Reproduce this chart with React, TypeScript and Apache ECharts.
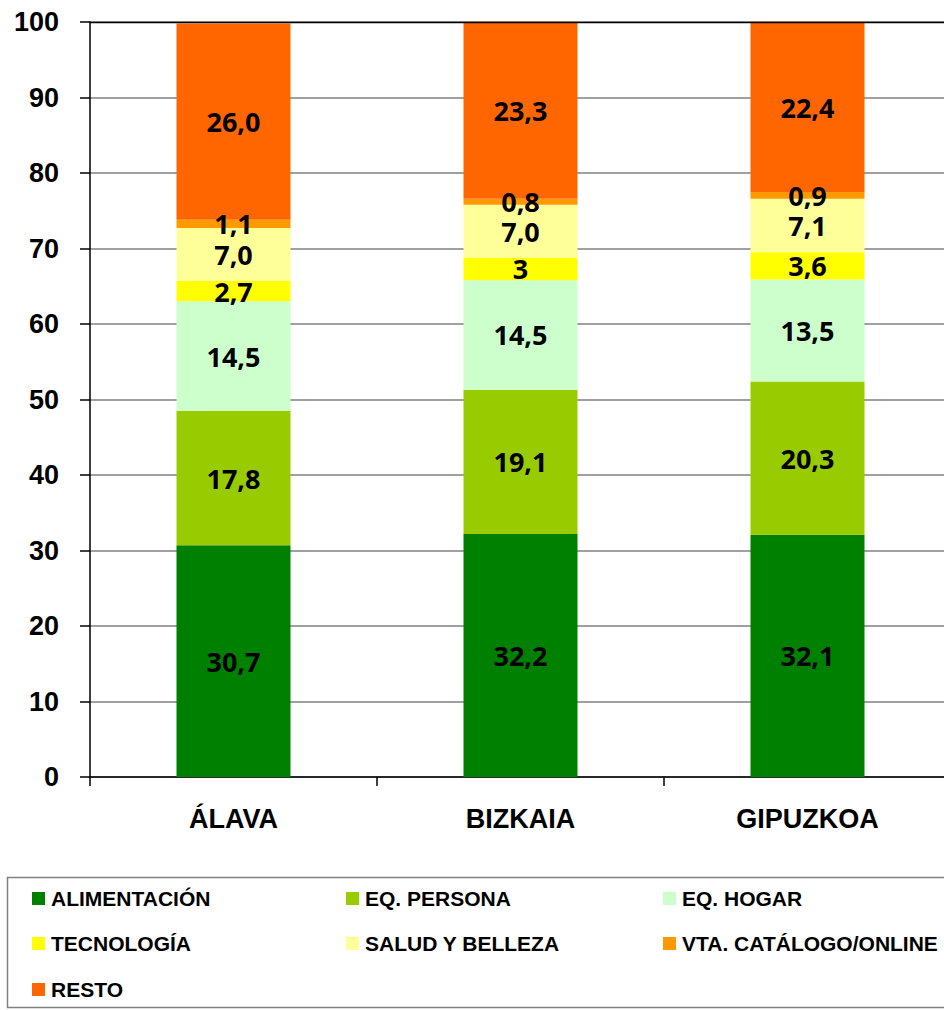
import React, { useEffect, useRef } from "react";
import * as echarts from "echarts";

const categories = ["ÁLAVA", "BIZKAIA", "GIPUZKOA"];
const seriesNames = [
  "ALIMENTACIÓN",
  "EQ. PERSONA",
  "EQ. HOGAR",
  "TECNOLOGÍA",
  "SALUD Y BELLEZA",
  "VTA. CATÁLOGO/ONLINE",
  "RESTO",
];
const alimentacion = ["30,7", "32,2", "32,1"];
const eqPersona = ["17,8", "19,1", "20,3"];
const eqHogar = ["14,5", "14,5", "13,5"];
const tecnologia = ["2,7", "3", "3,6"];
const saludBelleza = ["7,0", "7,0", "7,1"];
const vtaCatalogo = ["1,1", "0,8", "0,9"];
const resto = ["26,0", "23,3", "22,4"];
const seriesLabels = [alimentacion, eqPersona, eqHogar, tecnologia, saludBelleza, vtaCatalogo, resto];
const colors = ["#008000", "#99CC00", "#CCFFCC", "#FFFF00", "#FFFF99", "#FF9900", "#FF6600"];
const yTicks = { min: 0, max: 100, interval: 10 };

const legendPos = [
  [32, 888], [346, 888], [663, 888],
  [32, 933], [346, 933], [663, 933],
  [32, 979],
];

export default function App() {
  const ref = useRef<HTMLDivElement>(null);
  useEffect(() => {
    if (!ref.current) return;
    document.body.style.overflow = "hidden";
    const chart = echarts.init(ref.current, null, { renderer: "svg" });
    const series = seriesNames.map((name, i) => ({
      name,
      type: "bar",
      stack: "total",
      barWidth: 114,
      itemStyle: { color: colors[i] },
      data: seriesLabels[i].map((s) => parseFloat(s.replace(",", "."))),
      label: {
        show: true,
        position: "inside",
        color: "#000",
        fontFamily: "Noto Sans",
        fontWeight: "bold",
        fontSize: 27,
        formatter: (p: any) => seriesLabels[i][p.dataIndex],
      },
    }));
    const legends = seriesNames.map((name, i) => ({
      data: [name],
      left: legendPos[i][0],
      top: legendPos[i][1],
      padding: 0,
      icon: "rect",
      itemWidth: 13,
      itemHeight: 13,
      itemGap: 0,
      selectedMode: false,
      textStyle: {
        fontFamily: "Liberation Sans",
        fontWeight: "bold",
        fontSize: 21,
        color: "#000",
        padding: [0, 0, 0, 1],
      },
    }));
    chart.setOption({
      animation: false,
      backgroundColor: "#fff",
      grid: { left: 90, top: 22, width: 861, height: 755, containLabel: false },
      legend: legends,
      graphic: [
        {
          type: "rect",
          shape: { x: 7.5, y: 877.5, width: 960, height: 130 },
          style: { fill: "none", stroke: "#808080", lineWidth: 1.5 },
          silent: true,
        },
        {
          type: "line",
          shape: { x1: 90, y1: 22.5, x2: 960, y2: 22.5 },
          style: { stroke: "#000", lineWidth: 1.5 },
          z: 10,
        },
      ],
      xAxis: {
        type: "category",
        data: categories,
        axisLine: { lineStyle: { color: "#000", width: 1.5 } },
        axisTick: { show: true, length: 9, lineStyle: { color: "#000", width: 1.5 } },
        axisLabel: {
          margin: 28,
          color: "#000",
          fontFamily: "Liberation Sans",
          fontWeight: "bold",
          fontSize: 27,
        },
      },
      yAxis: {
        type: "value",
        min: yTicks.min,
        max: yTicks.max,
        interval: yTicks.interval,
        axisLine: { show: true, lineStyle: { color: "#000", width: 1.5 } },
        axisTick: { show: true, length: 10, lineStyle: { color: "#000", width: 1.5 } },
        splitLine: { show: true, lineStyle: { color: "#808080", width: 1.5 } },
        axisLabel: {
          margin: 31,
          color: "#000",
          fontFamily: "Liberation Sans",
          fontWeight: "bold",
          fontSize: 27,
        },
      },
      series,
    });
    return () => chart.dispose();
  }, []);
  return (
    <div
      ref={ref}
      style={{ position: "fixed", left: 0, top: 0, width: 960, height: 1010, background: "#fff" }}
    />
  );
}
